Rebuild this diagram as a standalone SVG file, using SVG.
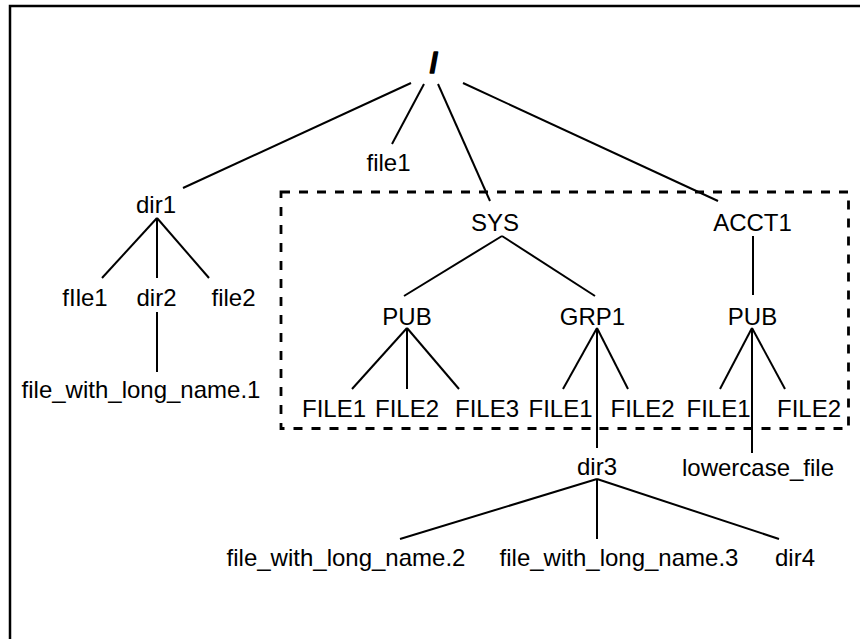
<svg xmlns="http://www.w3.org/2000/svg" width="860" height="639" viewBox="0 0 860 639">
  <style>
    text { font-family: "Liberation Sans", Arial, Helvetica, sans-serif; font-size: 24px; fill: #000; text-anchor: middle; }
    .root { font-size: 28px; font-weight: bold; stroke: #000; stroke-width: 1.6; stroke-linejoin: round; }
    .edge { stroke: #000; stroke-width: 2; fill: none; }
    .frame { stroke: #000; stroke-width: 2.5; fill: none; }
    .group-box { stroke: #000; stroke-width: 2.8; fill: none; stroke-dasharray: 9 9; }
  </style>
  <rect width="860" height="639" fill="#fff"/>

  <!-- outer frame (open towards right and bottom) -->
  <rect class="frame" x="10" y="6" width="900" height="700"/>

  <!-- dashed enclosure around SYS and ACCT1 -->
  <rect class="group-box" x="281" y="192" width="567.5" height="236.5"/>

  <g id="connectors">
    <!-- root -->
    <line class="edge" x1="411" y1="83" x2="183" y2="188"/>
    <line class="edge" x1="424" y1="84" x2="392" y2="144"/>
    <line class="edge" x1="438" y1="84" x2="490" y2="201"/>
    <line class="edge" x1="463" y1="83" x2="718" y2="201"/>
    <!-- dir1 -->
    <line class="edge" x1="157" y1="218" x2="102" y2="278"/>
    <line class="edge" x1="157" y1="218" x2="157" y2="278"/>
    <line class="edge" x1="157" y1="218" x2="209" y2="278"/>
    <!-- dir2 -->
    <line class="edge" x1="157" y1="312" x2="157" y2="372"/>
    <!-- SYS -->
    <line class="edge" x1="502" y1="236" x2="404" y2="296"/>
    <line class="edge" x1="502" y1="236" x2="595" y2="296"/>
    <!-- ACCT1 -->
    <line class="edge" x1="753" y1="236" x2="753" y2="295"/>
    <!-- SYS/PUB -->
    <line class="edge" x1="407" y1="328" x2="352" y2="389"/>
    <line class="edge" x1="407" y1="328" x2="407" y2="389"/>
    <line class="edge" x1="407" y1="328" x2="459" y2="389"/>
    <!-- GRP1 -->
    <line class="edge" x1="597" y1="328" x2="563" y2="389"/>
    <line class="edge" x1="597" y1="328" x2="597" y2="448"/>
    <line class="edge" x1="597" y1="328" x2="628" y2="389"/>
    <!-- ACCT1/PUB -->
    <line class="edge" x1="752" y1="328" x2="720" y2="389"/>
    <line class="edge" x1="752" y1="328" x2="752" y2="453"/>
    <line class="edge" x1="752" y1="328" x2="785" y2="389"/>
    <!-- dir3 -->
    <line class="edge" x1="597" y1="479" x2="400" y2="539"/>
    <line class="edge" x1="597" y1="479" x2="597" y2="539"/>
    <line class="edge" x1="597" y1="479" x2="779" y2="539"/>
  </g>

  <g id="root"><text class="root" x="434" y="72">/</text></g>
  <g id="file1"><text x="388.5" y="171">file1</text></g>
  <g id="dir1"><text x="156" y="213">dir1</text></g>
  <g id="dir1-file1"><text x="85" y="306">fIle1</text></g>
  <g id="dir2"><text x="156.5" y="306">dir2</text></g>
  <g id="dir1-file2"><text x="233.5" y="306">file2</text></g>
  <g id="long-name-1"><text x="141" y="398">file_with_long_name.1</text></g>

  <g id="sys"><text x="495" y="231">SYS</text></g>
  <g id="acct1"><text x="752.5" y="231">ACCT1</text></g>
  <g id="sys-pub"><text x="407" y="325">PUB</text></g>
  <g id="grp1"><text x="592.5" y="325">GRP1</text></g>
  <g id="acct1-pub"><text x="752.5" y="325">PUB</text></g>

  <g id="sys-pub-file1"><text x="334" y="417">FILE1</text></g>
  <g id="sys-pub-file2"><text x="407" y="417">FILE2</text></g>
  <g id="sys-pub-file3"><text x="487" y="417">FILE3</text></g>
  <g id="grp1-file1"><text x="560.5" y="417">FILE1</text></g>
  <g id="grp1-file2"><text x="642.5" y="417">FILE2</text></g>
  <g id="acct1-pub-file1"><text x="718.5" y="417">FILE1</text></g>
  <g id="acct1-pub-file2"><text x="809" y="417">FILE2</text></g>

  <g id="dir3"><text x="597" y="475">dir3</text></g>
  <g id="lowercase-file"><text x="758" y="476">lowercase_file</text></g>

  <g id="long-name-2"><text x="346" y="566">file_with_long_name.2</text></g>
  <g id="long-name-3"><text x="619" y="566">file_with_long_name.3</text></g>
  <g id="dir4"><text x="795" y="566">dir4</text></g>
</svg>
